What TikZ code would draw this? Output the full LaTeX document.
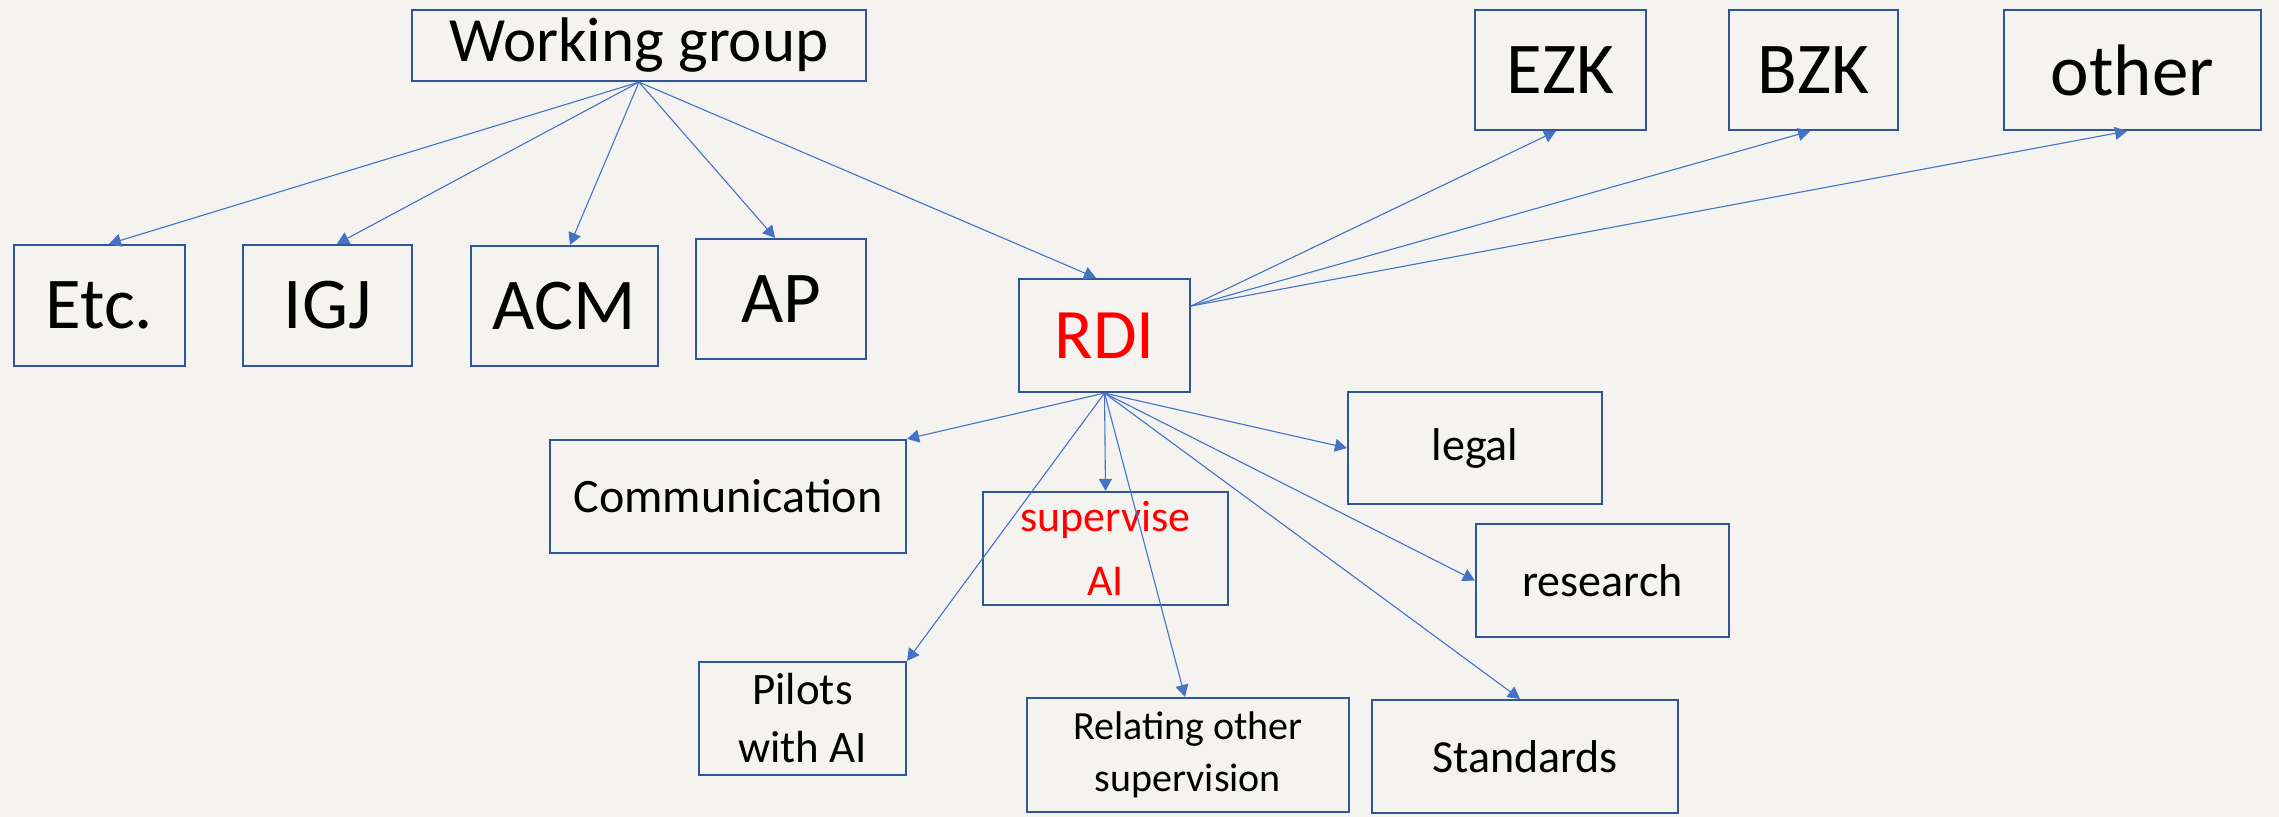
\documentclass[tikz,border=0pt]{standalone}
\usepackage{fontspec}
\setmainfont{Carlito}
\usetikzlibrary{arrows.meta}
\definecolor{bg}{HTML}{F4F3EF}
\definecolor{boxc}{HTML}{2F5597}
\definecolor{arrc}{HTML}{4472C4}
\definecolor{redt}{HTML}{FF0000}
\tikzset{
  box/.style={draw=boxc, line width=1.1pt, inner sep=0pt, align=center, text=black},
  arr/.style={draw=arrc, line width=0.55pt, -{Triangle[length=6pt,width=6.5pt]}},
}
\newcommand{\fs}[1]{\fontsize{#1}{1.2\dimexpr#1\relax}\selectfont}
\begin{document}
\begin{tikzpicture}[x=0.5pt,y=-0.5pt]
\fill[bg] (0,0) rectangle (2279,817);
\useasboundingbox (0,0) rectangle (2279,817);
% boxes: center, width(pt)=px/2
\node[box, minimum width=227pt, minimum height=35.5pt, font=\fs{31.5pt}] (wg) at (639,45.5) {Working group};
\node[box, minimum width=85.5pt, minimum height=60.5pt, font=\fs{36.5pt}] (etc) at (99.5,305.5) {Etc.};
\node[box, minimum width=84.5pt, minimum height=60.5pt, font=\fs{36.5pt}] (igj) at (327.5,305.5) {IGJ};
\node[box, minimum width=93.5pt, minimum height=60pt, font=\fs{36.5pt}] (acm) at (564.5,306) {ACM};
\node[box, minimum width=85pt, minimum height=60pt, font=\fs{36.5pt}] (ap) at (781,299) {AP};
\node[box, minimum width=85.5pt, minimum height=56.5pt, font=\fs{35.5pt}, text=redt] (rdi) at (1104.5,335.5) {RDI};
\node[box, minimum width=85.5pt, minimum height=60pt, font=\fs{36.5pt}] (ezk) at (1560.5,70) {EZK};
\node[box, minimum width=84.5pt, minimum height=60pt, font=\fs{36.5pt}] (bzk) at (1813.5,70) {BZK};
\node[box, minimum width=128.5pt, minimum height=60pt, font=\fs{36.5pt}] (other) at (2132.5,70) {other};
\node[box, minimum width=178pt, minimum height=56.5pt, font=\fs{24pt}] (comm) at (728,496.5) {Communication};
\node[box, minimum width=122.5pt, minimum height=56.5pt, font=\fs{22pt}, text=redt] (sup) at (1105.5,548.5) {supervise\\[5.5pt]AI};
\node[box, minimum width=127pt, minimum height=56pt, font=\fs{23pt}] (legal) at (1475,448) {legal};
\node[box, minimum width=126.5pt, minimum height=56.5pt, font=\fs{23pt}] (research) at (1602.5,580.5) {research};
\node[box, minimum width=103.5pt, minimum height=56.5pt, font=\fs{22.5pt}] (pilots) at (802.5,718.5) {Pilots\\[2pt]with AI};
\node[box, minimum width=161pt, minimum height=57pt, font=\fs{20pt}] (rel) at (1188,755) {Relating other\\[2pt]supervision};
\node[box, minimum width=153pt, minimum height=56.5pt, font=\fs{23pt}] (std) at (1525,756.5) {Standards};
% anchor points
\coordinate (wgs) at (wg.south);
\coordinate (rdiE) at ([yshift=14.75pt]rdi.east);
\coordinate (rdiS) at (rdi.south);
% working group arrows
\draw[arr] (wgs) -- ([xshift=4.75pt]etc.north);
\draw[arr] (wgs) -- ([xshift=4.75pt]igj.north);
\draw[arr] (wgs) -- ([xshift=2.75pt]acm.north);
\draw[arr] (wgs) -- ([xshift=-3pt]ap.north);
\draw[arr] (wgs) -- ([xshift=-4.25pt]rdi.north);
% RDI to ministries
\draw[arr] (rdiE) -- ([xshift=-2.25pt]ezk.south);
\draw[arr] (rdiE) -- ([xshift=-1.75pt]bzk.south);
\draw[arr] (rdiE) -- ([xshift=-2.75pt]other.south);
% RDI downward
\draw[arr] (rdiS) -- (comm.north east);
\draw[arr] (rdiS) -- (sup.north);
\draw[arr] (rdiS) -- (legal.west);
\draw[arr] (rdiS) -- (research.west);
\draw[arr] (rdiS) -- (pilots.north east);
\draw[arr] (rdiS) -- ([xshift=-1.5pt]rel.north);
\draw[arr] (rdiS) -- ([xshift=-2.5pt]std.north);
\end{tikzpicture}
\end{document}
